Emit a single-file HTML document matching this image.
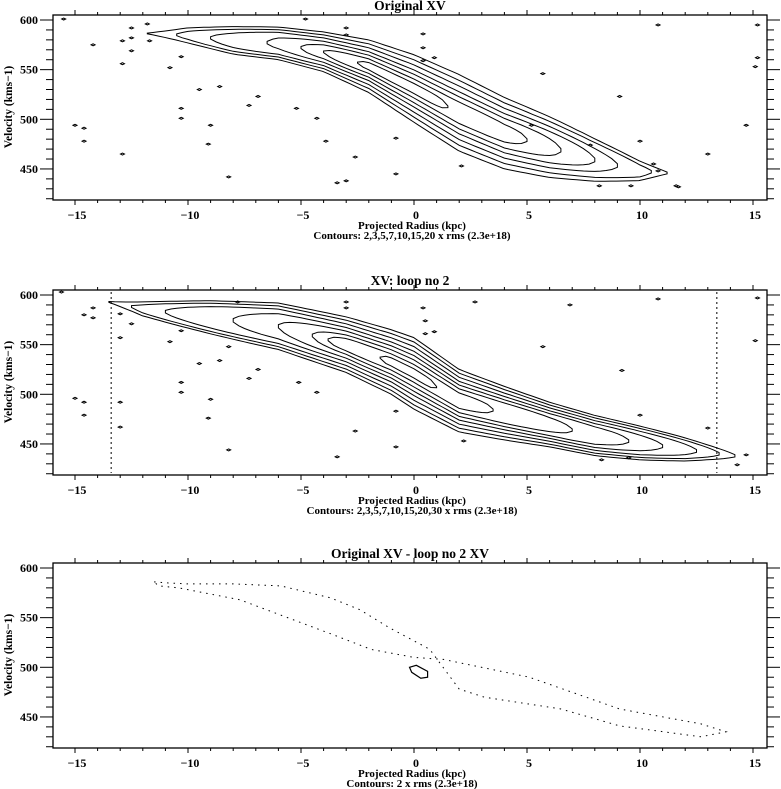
<!DOCTYPE html>
<html><head><meta charset="utf-8">
<style>
html,body{margin:0;padding:0;background:#fff;}
svg{display:block;}
text{font-family:"Liberation Serif",serif;font-weight:bold;fill:#000;}
</style></head>
<body>
<svg id="chart" width="781" height="789" viewBox="0 0 781 789" xmlns="http://www.w3.org/2000/svg"></svg>
<script>
// ---------- data ----------
const panelTitles = ["Original XV", "XV: loop no  2", "Original XV - loop no  2 XV"];
const contourNotes = ["Contours: 2,3,5,7,10,15,20 x rms (2.3e+18)", "Contours: 2,3,5,7,10,15,20,30 x rms (2.3e+18)", "Contours: 2 x rms (2.3e+18)"];
const xTicks = [-15, -10, -5, 0, 5, 10, 15];
const yTicks = [450, 500, 550, 600];

// panel 1 outer contour (kpc, km/s)
const p1RidgeX = [-11.8, -10, -8, -6, -4, -2, 0, 2, 4, 6, 8, 10, 11.2];
const p1Upper  = [589, 594, 594, 593, 588, 580, 565, 545, 522, 503, 482, 462, 452];
const p1Lower  = [584, 575, 565, 560, 548, 527, 497, 468, 450, 441, 436, 434, 440];
const p1LevelScale = [1, 0.85, 0.7, 0.55, 0.42, 0.28, 0.15];
const p1LevelXmin  = [-11.8, -10.5, -9, -6.5, -5, -4, -2.5];
const p1LevelXmax  = [11.2, 10.5, 9, 8, 6.5, 5, 1.5];

// panel 2 outer contour
const p2RidgeX = [-13.5, -12, -9, -6, -3, -1, 0, 2, 4, 6, 8, 10, 12, 14.2];
const p2Upper  = [596, 596, 595, 592, 578, 565, 557, 525, 508, 492, 479, 469, 459, 446];
const p2Lower  = [590, 576, 560, 545, 522, 500, 485, 462, 454, 447, 438, 433, 430, 430];
const p2LevelScale = [1, 0.88, 0.75, 0.62, 0.5, 0.38, 0.25, 0.13];
const p2LevelXmin  = [-13.5, -12.5, -11, -8, -6, -4.5, -3.8, -1.5];
const p2LevelXmax  = [14.2, 13.5, 12.5, 11, 9.5, 7, 3.5, 1];
const p2Bounds = [-13.4, 13.4];

// panel 3 residual contour (dotted, twisted loop) and solid blob
const p3LoopX = [-11.5, -10.9, -10, -8, -5.9, -3.7, -2.4, -1.1, 0.3, 0.7, 2.0, 3.1, 6.5, 9.1, 12.7, 13.8, 12.7, 9.1, 5.1, 1.3, 0, -1.9, -3.6, -7.7, -10.4, -11.3];
const p3LoopV = [586, 585, 584, 584, 582, 570, 558, 540, 523, 518, 478, 470, 458, 441, 430, 435, 443, 458, 490, 508, 510, 518, 533, 568, 580, 582];
const p3BlobX = [-0.2, 0.1, 0.6, 0.6, 0.3, -0.1];
const p3BlobV = [500, 502, 496, 490, 489, 495];

// isolated noise peaks
const p1SpotX = [-15.5,-14.2,-12.9,-12.5,-12.5,-12.5,-11.8,-11.7,-12.9,-10.8,-10.3,-9.5,-8.6,-10.3,-10.3,-9,-9.1,-15,-14.6,-14.6,-12.9,-8.2,-7.3,-6.9,-5.2,-4.3,-3.9,-2.6,-0.8,-0.8,-3,-3.4,-3,-3,-4.8,0.4,0.4,0.9,0.4,5.7,9.1,10,5.2,7.8,10.6,10.8,11.6,8.2,9.6,2.1,10.8,15.2,15.2,15.1,14.7,13,11.7];
const p1SpotV = [601,575,579,582,569,592,596,579,556,552,563,530,533,511,501,494,475,494,491,478,465,442,514,523,511,501,478,462,481,445,438,436,592,585,601,586,572,562,559,546,523,478,494,474,455,448,433,433,433,453,595,595,562,553,494,465,432];
const p2SpotX = [-15.6,-14.2,-14.2,-14.6,-13,-12.5,-13,-10.8,-10.3,-8.2,-7.8,-3,-3,2.7,0.4,0.5,0.9,0.5,6.9,10.8,5.7,9.2,15.1,15.2,-8.6,-9.5,-6.9,-7.3,-5.1,-4.3,-10.3,-10.3,-9,-9.1,-15,-14.6,-14.6,-13,-13,-0.8,-0.8,-2.6,-3.4,-8.2,2.2,10,13,14.7,14.3,9.5,8.3];
const p2SpotV = [603,587,577,580,581,571,557,553,564,548,593,593,587,593,587,574,563,561,590,596,548,524,554,597,534,531,525,516,512,502,512,502,495,476,496,492,479,467,492,483,447,463,437,444,453,479,466,439,429,436,434];

// ---------- layout helpers ----------
const NS = "http://www.w3.org/2000/svg";
const svg = document.getElementById('chart');
const panelTops = [15, 290, 563];
const PLOT_L = 53, PLOT_R = 767, PLOT_H = 185;
const X0 = 414, KPC = 22.6, VPX = 0.993;
function xs(k){ return X0 + k * KPC; }
function ys(v, top){ return top + 5 + (600 - v) * VPX; }
function mk(tag, attrs, parent){
  const e = document.createElementNS(NS, tag);
  for (const k in attrs) e.setAttribute(k, attrs[k]);
  (parent || svg).appendChild(e);
  return e;
}
function interp(xa, ya, x){
  if (x <= xa[0]) return ya[0];
  for (let i = 1; i < xa.length; i++) {
    if (x <= xa[i]) { const t = (x - xa[i-1]) / (xa[i] - xa[i-1]); return ya[i-1] + t * (ya[i] - ya[i-1]); }
  }
  return ya[ya.length-1];
}
function levelPath(rx, up, lo, s, x0, x1, top){
  const n = Math.max(6, Math.round((x1 - x0) / 0.25));
  const m = (x0 + x1) / 2, h = (x1 - x0) / 2;
  const upper = [], lower = [];
  for (let i = 0; i <= n; i++) {
    const x = x0 + (x1 - x0) * i / n;
    const u = interp(rx, up, x), l = interp(rx, lo, x);
    const c = (u + l) / 2, w = (u - l) / 2;
    const q = (x - m) / h;
    const taper = Math.sqrt(Math.max(0.02, 1 - Math.pow(Math.abs(q), 6)));
    upper.push([xs(x), ys(c + w * s * taper, top)]);
    lower.push([xs(x), ys(c - w * s * taper, top)]);
  }
  const pts = upper.concat(lower.reverse());
  return 'M' + pts.map(p => p[0].toFixed(1) + ',' + p[1].toFixed(1)).join('L') + 'Z';
}

function drawAxes(pi){
  const top = panelTops[pi], bot = top + PLOT_H;
  const g = mk('g', {});
  
  
  const frame = mk('rect', {x: PLOT_L, y: top, width: PLOT_R - PLOT_L, height: PLOT_H, fill: 'none', stroke: '#000', 'stroke-width': 1.3}, g);
  
  
  for (let k = -15; k <= 15; k++) {
    const x = xs(k), major = (k % 5 === 0);
    const L = major ? 5 : 3;
    mk('line', {x1: x, y1: top, x2: x, y2: top - L, stroke: '#000', 'stroke-width': 1}, g);
    mk('line', {x1: x, y1: bot, x2: x, y2: bot + L, stroke: '#000', 'stroke-width': 1}, g);
  }
  for (let v = 420; v <= 600; v += 10) {
    const y = ys(v, top); if (y < top - 0.5 || y > bot + 0.5) continue;
    const major = (v % 50 === 0), L = major ? 13 : 7;
    mk('line', {x1: PLOT_L, y1: y, x2: PLOT_L - L, y2: y, stroke: '#000', 'stroke-width': 1}, g);
    mk('line', {x1: PLOT_R, y1: y, x2: PLOT_R + L, y2: y, stroke: '#000', 'stroke-width': 1}, g);
  }
  xTicks.forEach(k => {
    const t = mk('text', {x: xs(k) + 2, y: bot + 19, 'text-anchor': 'middle', 'font-size': 12}, g);
    
    
    t.textContent = k < 0 ? '\u2212' + Math.abs(k) : String(k);
  });
  yTicks.forEach(v => {
    const t = mk('text', {x: 38, y: ys(v, top) + 4, 'text-anchor': 'end', 'font-size': 12}, g);
    
    
    t.textContent = v;
  });
  const yt = mk('text', {x: 12, y: top + 92, 'text-anchor': 'middle', 'font-size': 11.5, transform: 'rotate(-90 12 ' + (top + 92) + ')'}, g);
  
  
  yt.textContent = 'Velocity (kms\u22121)';
  const tt = mk('text', {x: 410, y: top - 5, 'text-anchor': 'middle', 'font-size': 13.5, 'font-weight': 'normal'}, g);
  
  
  tt.textContent = panelTitles[pi];
  const xt = mk('text', {x: 412, y: bot + 29, 'text-anchor': 'middle', 'font-size': 11}, g);
  
  
  xt.textContent = 'Projected Radius (kpc)';
  const ct = mk('text', {x: 412, y: bot + 39, 'text-anchor': 'middle', 'font-size': 11}, g);
  
  
  ct.textContent = contourNotes[pi];
}

function drawContours(pi, rx, up, lo, scales, xmin, xmax){
  const top = panelTops[pi];
  const g = mk('g', {fill: 'none', stroke: '#000', 'stroke-width': 1});
  
  
  scales.forEach((s, i) => {
    const p = mk('path', {d: levelPath(rx, up, lo, s, xmin[i], xmax[i], top)}, g);
    
    
  });
}
function drawSpots(pi, sx, sv){
  const top = panelTops[pi];
  const g = mk('g', {fill: 'none', stroke: '#000', 'stroke-width': 1});
  
  
  sx.forEach((x, i) => {
    const cx = xs(x), cy = ys(sv[i], top);
    const p = mk('path', {d: `M${cx-2},${cy}L${cx},${cy-1}L${cx+2},${cy}L${cx},${cy+1}Z`}, g);
    
    
  });
}

drawAxes(0);
drawContours(0, p1RidgeX, p1Upper, p1Lower, p1LevelScale, p1LevelXmin, p1LevelXmax);
drawSpots(0, p1SpotX, p1SpotV);
drawAxes(1);
drawContours(1, p2RidgeX, p2Upper, p2Lower, p2LevelScale, p2LevelXmin, p2LevelXmax);
drawSpots(1, p2SpotX, p2SpotV);
p2Bounds.forEach(b => {
  const l = mk('line', {x1: xs(b), x2: xs(b), y1: panelTops[1] + 2, y2: panelTops[1] + PLOT_H - 2, stroke: '#000', 'stroke-width': 1, 'stroke-dasharray': '2,3'});
  
  
});
drawAxes(2);
{
  const top = panelTops[2];
  const d = 'M' + p3LoopX.map((x, i) => xs(x).toFixed(1) + ',' + ys(p3LoopV[i], top).toFixed(1)).join('L') + 'Z';
  const p = mk('path', {d: d, fill: 'none', stroke: '#000', 'stroke-width': 1, 'stroke-dasharray': '1.5,5'});
  
  
  const d2 = 'M' + p3BlobX.map((x, i) => xs(x).toFixed(1) + ',' + ys(p3BlobV[i], top).toFixed(1)).join('L') + 'Z';
  const b = mk('path', {d: d2, fill: 'none', stroke: '#000', 'stroke-width': 1.2});
  
  
}
</script>
</body></html>
